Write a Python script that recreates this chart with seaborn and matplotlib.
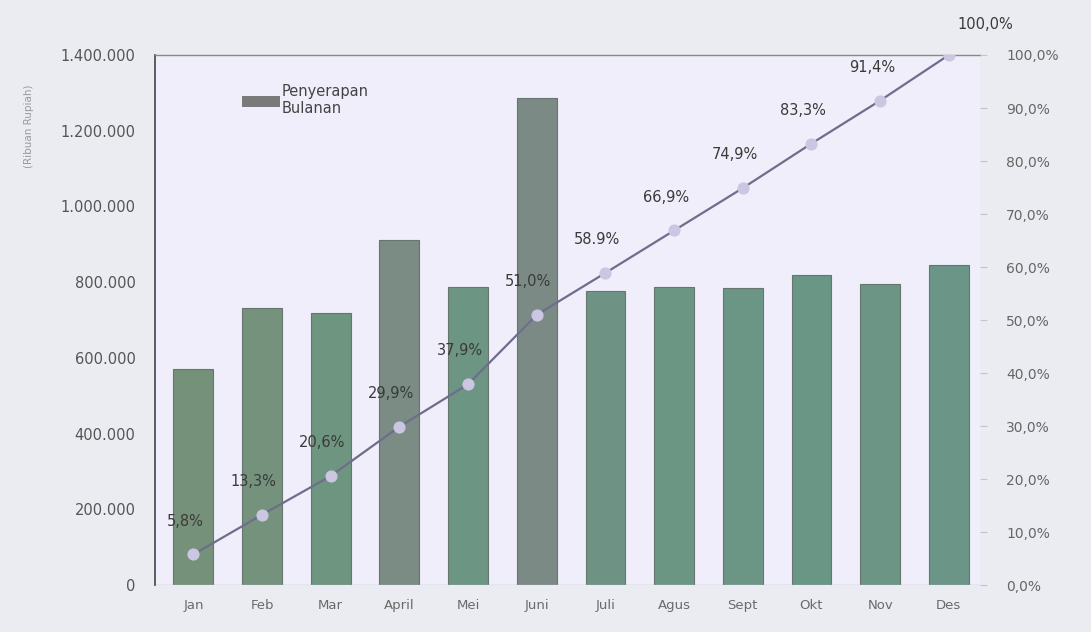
import numpy as np
import pandas as pd
import seaborn as sns
import matplotlib.pyplot as plt
from matplotlib.patches import Patch

# data
months = ['Jan', 'Feb', 'Mar', 'April', 'Mei', 'Juni', 'Juli', 'Agus', 'Sept', 'Okt', 'Nov', 'Des']
monthly = [570000, 733000, 718000, 912000, 788000, 1286000, 776000, 788000, 786000, 820000, 795000, 845000]
cumulative = [5.8, 13.3, 20.6, 29.9, 37.9, 51.0, 58.9, 66.9, 74.9, 83.3, 91.4, 100.0]
cum_labels = ['5,8%', '13,3%', '20,6%', '29,9%', '37,9%', '51,0%', '58.9%', '66,9%',
              '74,9%', '83,3%', '91,4%', '100,0%']

df = pd.DataFrame({'Bulan': months, 'Penyerapan': monthly, 'Kumulatif': cumulative})

sns.set_theme(style='white')
plt.rcParams['font.family'] = ['DejaVu Sans']

fig = plt.figure(figsize=(10.91, 6.32), dpi=100, facecolor='#ebebf2')
ax = fig.add_axes([0.142, 0.074, 0.756, 0.839])
ax.set_facecolor('#efeefa')

bar_colors = ['#76917a', '#74927c', '#6e957f', '#7a8c84', '#6d9584', '#7c8a85',
              '#6e9384', '#6c9684', '#6b9685', '#6a9686', '#6c9585', '#6b9587']
sns.barplot(data=df, x='Bulan', y='Penyerapan', hue='Bulan', palette=bar_colors,
            legend=False, width=0.58, ax=ax, saturation=1,
            edgecolor='#66756d', linewidth=0.8)

ax.set_ylim(0, 1400000)
ax.set_xlim(-0.56, 11.45)
ax.set_yticks(np.arange(0, 1400001, 200000))
ax.set_yticklabels(['0' if v == 0 else f'{v:,.0f}'.replace(',', '.') for v in ax.get_yticks()])
ax.set_xlabel('')
ax.set_ylabel('')
ax.tick_params(axis='y', length=0, pad=14, labelsize=10.5, labelcolor='#555555')
ax.tick_params(axis='x', length=0, pad=10, labelsize=9.5, labelcolor='#6a6a6a')
for s in ['right', 'bottom']:
    ax.spines[s].set_visible(False)
ax.spines['left'].set_color('#444444')
ax.spines['left'].set_linewidth(1.2)
ax.spines['top'].set_color('#888888')
ax.spines['top'].set_linewidth(1.0)
ax.axhline(0, color='#b8b8c8', lw=1.0)

fig.text(0.027, 0.80, '(Ribuan Rupiah)', rotation=90, fontsize=7.5,
         color='#9a9a9a', ha='center', va='center')

# cumulative line on right axis
ax2 = ax.twinx()
x = np.arange(len(months))
sns.lineplot(x=x, y=df['Kumulatif'] / 100, ax=ax2, color='#6e6e8c', lw=1.6,
             marker='o', markersize=8, markerfacecolor='#cbc6e2',
             markeredgecolor='#cbc6e2')
ax2.set_ylim(0, 1.0)
ax2.set_ylabel('')
ax2.set_yticks(np.arange(0, 1.01, 0.1))
ax2.set_yticklabels([f'{v * 100:.1f}%'.replace('.', ',') for v in ax2.get_yticks()])
ax2.tick_params(axis='y', length=5, width=0.8, color='#c4c4d0', pad=14,
                labelsize=10, labelcolor='#666666')
for s in ax2.spines.values():
    s.set_visible(False)

for i, (v, lab) in enumerate(zip(cumulative, cum_labels)):
    off = (26, 22) if i == len(months) - 1 else (-6, 24)
    ax2.annotate(lab, (i, v / 100), xytext=off, textcoords='offset points',
                 ha='center', va='center', fontsize=10.5, color='#3a3a3a',
                 annotation_clip=False)

ax.legend(handles=[Patch(facecolor='#7a7a7a', edgecolor='none')],
          labels=['Penyerapan\nBulanan'], loc='upper left',
          bbox_to_anchor=(0.09, 0.97), frameon=False, fontsize=10.5,
          handlelength=2.6, handleheight=0.8, handletextpad=0.1,
          labelcolor='#444444')

fig.savefig('out.png', dpi=100, facecolor=fig.get_facecolor())
